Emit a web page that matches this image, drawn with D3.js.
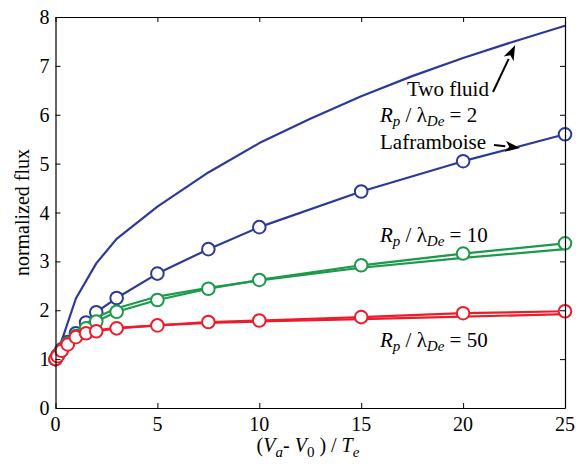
<!DOCTYPE html>
<html>
<head>
<meta charset="utf-8">
<script src="https://cdn.jsdelivr.net/npm/d3@7"></script>
<style>
  html, body { margin: 0; padding: 0; background: #fff; }
</style>
</head>
<body>
<svg id="chart" width="576" height="464"></svg>
<script>
// Bias potential (Va - V0)/Te at which the Laframboise table is given
const etaLaf = [0, 0.1, 0.3, 0.6, 1, 1.5, 2, 3, 5, 7.5, 10, 15, 20, 25];

// Laframboise normalized flux (circles)
const lafR2  = [1.0, 1.08, 1.20, 1.35, 1.53, 1.75, 1.96, 2.25, 2.75, 3.25, 3.70, 4.43, 5.05, 5.60];
const lafR10 = [1.0, 1.07, 1.18, 1.32, 1.47, 1.63, 1.77, 1.97, 2.21, 2.44, 2.62, 2.92, 3.16, 3.37];
const lafR50 = [1.0, 1.06, 1.17, 1.30, 1.45, 1.53, 1.57, 1.63, 1.69, 1.76, 1.79, 1.86, 1.94, 1.98];

// Two-fluid model results (plain lines)
const etaTwoFluidR2 = [0, 1, 2, 3, 5, 7.5, 10, 12.5, 15, 17.5, 20, 22.5, 25];
const twoFluidR2    = [1.0, 2.24, 2.96, 3.46, 4.12, 4.82, 5.42, 5.92, 6.38, 6.79, 7.16, 7.50, 7.82];
const etaTwoFluid   = [0, 0.3, 0.6, 1, 1.5, 2, 3, 5, 7.5, 10, 15, 20, 25];
const twoFluidR10   = [1.0, 1.24, 1.40, 1.56, 1.73, 1.85, 2.04, 2.28, 2.46, 2.61, 2.87, 3.07, 3.25];
const twoFluidR50   = [1.0, 1.20, 1.35, 1.47, 1.55, 1.59, 1.64, 1.69, 1.74, 1.77, 1.82, 1.87, 1.92];

// Axis ticks
const xTicks = [0, 5, 10, 15, 20, 25];
const yTicks = [0, 1, 2, 3, 4, 5, 6, 7, 8];

const colors = { blue: "#2b3a98", green: "#1b9a4a", red: "#ec1c2a" };
const FONT = "Times New Roman";

const svg = d3.select("#chart");
const plotLeft = 55.5, plotRight = 565, plotTop = 17, plotBottom = 408;

const x = d3.scaleLinear().domain([0, 25]).range([plotLeft, plotRight]);
const y = d3.scaleLinear().domain([0, 8]).range([plotBottom, plotTop]);

const line = d3.line().x(d => x(d[0])).y(d => y(d[1]));
const zip = (xs, ys) => xs.map((v, i) => [v, ys[i]]);

// Curves
const plot = svg.append("g");

function drawSeries(xs, ys, color, withMarkers) {
  const pts = zip(xs, ys);
  plot.append("path").datum(pts)
    .attr("d", line).attr("fill", "none")
    .attr("stroke", color).attr("stroke-width", 2.2)
    .attr("stroke-linejoin", "round");
  if (withMarkers) {
    plot.append("g").selectAll("circle").data(pts).join("circle")
      .attr("cx", d => x(d[0])).attr("cy", d => y(d[1]))
      .attr("r", 6.3).attr("fill", "#fff")
      .attr("stroke", color).attr("stroke-width", 2);
  }
}

drawSeries(etaTwoFluidR2, twoFluidR2, colors.blue, false);
drawSeries(etaLaf, lafR2, colors.blue, true);
drawSeries(etaTwoFluid, twoFluidR10, colors.green, false);
drawSeries(etaLaf, lafR10, colors.green, true);
drawSeries(etaTwoFluid, twoFluidR50, colors.red, false);
drawSeries(etaLaf, lafR50, colors.red, true);

// Axes: ticks point inward on all four sides; labels drawn separately
function frameAxis(axis, tx, ty) {
  const g = svg.append("g").attr("transform", `translate(${tx},${ty})`)
    .call(axis.tickFormat("").tickSizeInner(-5).tickSizeOuter(0));
  g.selectAll("text").remove();
  g.selectAll("path.domain").attr("stroke", "#000").attr("stroke-width", 1.2);
  g.selectAll(".tick line").attr("stroke", "#000").attr("stroke-width", 1);
  return g;
}
frameAxis(d3.axisBottom(x).tickValues(xTicks), 0, plotBottom);
frameAxis(d3.axisTop(x).tickValues(xTicks), 0, plotTop);
frameAxis(d3.axisLeft(y).tickValues(yTicks), plotLeft, 0);
frameAxis(d3.axisRight(y).tickValues(yTicks), plotRight, 0);

// Text helper: every label uses the serif face
function label(parent, px, py, size) {
  return parent.append("text").style("font-family", FONT)
    .attr("x", px).attr("y", py).attr("font-size", size).attr("fill", "#000");
}

// Tick labels
const labels = svg.append("g");
xTicks.forEach(v => label(labels, x(v), plotBottom + 23, 20)
  .attr("text-anchor", "middle").text(v));
yTicks.forEach(v => label(labels, plotLeft - 6, y(v) + 7, 20)
  .attr("text-anchor", "end").text(v));

// Axis titles
label(svg, 0, 0, 20)
  .attr("transform", `translate(29,${(plotTop + plotBottom) / 2}) rotate(-90)`)
  .attr("text-anchor", "middle")
  .text("normalized flux");

const xt = label(svg, 308, 452, 20).attr("text-anchor", "middle");
xt.append("tspan").text("(");
xt.append("tspan").attr("font-style", "italic").text("V");
xt.append("tspan").attr("font-style", "italic").attr("font-size", 15).attr("dy", 5).text("a");
xt.append("tspan").attr("dy", -5).text("- ");
xt.append("tspan").attr("font-style", "italic").text("V");
xt.append("tspan").attr("font-size", 15).attr("dy", 5).text("0");
xt.append("tspan").attr("dy", -5).text(" ) / ");
xt.append("tspan").attr("font-style", "italic").text("T");
xt.append("tspan").attr("font-style", "italic").attr("font-size", 15).attr("dy", 5).text("e");

// Annotations
const ann = svg.append("g");

function ratioLabel(px, py, value) {
  const t = label(ann, px, py, 21);
  t.append("tspan").attr("font-style", "italic").text("R");
  t.append("tspan").attr("font-style", "italic").attr("font-size", 15).attr("dy", 4).text("p");
  t.append("tspan").attr("dy", -4).text(" / λ");
  t.append("tspan").attr("font-style", "italic").attr("font-size", 15).attr("dy", 4).text("De");
  t.append("tspan").attr("dy", -4).text(" = " + value);
}

label(ann, 407, 96, 21).text("Two fluid");
ratioLabel(380, 122, 2);
label(ann, 380, 149, 21).text("Laframboise");
ratioLabel(380, 242, 10);
ratioLabel(380, 347, 50);

// Arrow from a label to a point given in data coordinates
function arrow(fromPx, toData) {
  const tx = x(toData[0]), ty = y(toData[1]);
  const [fx, fy] = fromPx;
  const ang = Math.atan2(ty - fy, tx - fx);
  const len = 15, half = 5.5;
  const bx = tx - len * Math.cos(ang), by = ty - len * Math.sin(ang);
  ann.append("line").attr("x1", fx).attr("y1", fy).attr("x2", bx).attr("y2", by)
    .attr("stroke", "#000").attr("stroke-width", 2);
  const nx = -Math.sin(ang), ny = Math.cos(ang);
  const back = 4;
  const cx = bx + back * Math.cos(ang), cy = by + back * Math.sin(ang);
  ann.append("path")
    .attr("d", `M${tx},${ty}L${bx + half * nx},${by + half * ny}L${cx},${cy}L${bx - half * nx},${by - half * ny}Z`)
    .attr("fill", "#000");
}

arrow([493, 92], [22.55, 7.42]);
arrow([494, 145], [22.8, 5.32]);
</script>
</body>
</html>
